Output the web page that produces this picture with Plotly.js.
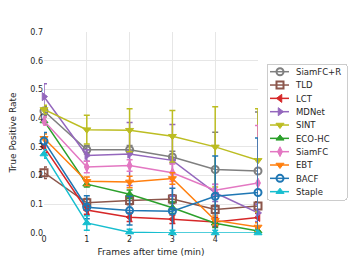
<!DOCTYPE html>
<html><head><meta charset="utf-8">
<script src="https://cdn.plot.ly/plotly-3.0.1.min.js"></script>
<style>html,body{margin:0;padding:0;background:#fff}#c{width:360px;height:262px}</style>
</head><body><div id="c"></div>
<script>
const frames = [0, 1, 2, 3, 4, 5];
const trackers = ["SiamFC+R","TLD","LCT","MDNet","SINT","ECO-HC","SiamFC","EBT","BACF","Staple"];
const siamfcR = [0.425, 0.290, 0.290, 0.265, 0.221, 0.216];
const tld     = [0.210, 0.105, 0.113, 0.118, 0.082, 0.094];
const lct     = [0.300, 0.080, 0.055, 0.048, 0.038, 0.054];
const mdnet   = [0.475, 0.270, 0.275, 0.253, 0.140, 0.070];
const sint    = [0.430, 0.360, 0.358, 0.337, 0.300, 0.253];
const ecohc   = [0.390, 0.170, 0.135, 0.088, 0.034, 0.007];
const siamfc  = [0.390, 0.230, 0.235, 0.210, 0.149, 0.174];
const ebt     = [0.330, 0.180, 0.178, 0.190, 0.044, 0.021];
const bacf    = [0.320, 0.090, 0.078, 0.076, 0.128, 0.141];
const staple  = [0.275, 0.035, 0.003, 0.000, 0.000, 0.000];
const errSiamfcR = [0.015, 0.015, 0.015, 0.02, 0.13, 0.205];
const errTld     = [0.020, 0.015, 0.015, 0.015, 0.015, 0.015];
const errLct     = [0.020, 0.015, 0.015, 0.015, 0.015, 0.015];
const errMdnet   = [0.045, 0.020, 0.110, 0.125, 0.030, 0.030];
const errSint    = [0.015, 0.050, 0.075, 0.090, 0.140, 0.180];
const errEcohc   = [0.015, 0.010, 0.015, 0.020, 0.015, 0.010];
const errSiamfc  = [0.015, 0.020, 0.020, 0.030, 0.020, 0.200];
const errEbt     = [0.015, 0.015, 0.020, 0.020, 0.015, 0.015];
const errBacf    = [0.030, 0.040, 0.050, 0.080, 0.140, 0.190];
const errStaple  = [0.015, 0.025, 0.010, 0.010, 0.010, 0.010];

const values = [siamfcR, tld, lct, mdnet, sint, ecohc, siamfc, ebt, bacf, staple];
const errs = [errSiamfcR, errTld, errLct, errMdnet, errSint, errEcohc, errSiamfc, errEbt, errBacf, errStaple];
const colors = ["#7f7f7f","#8c564b","#d62728","#9467bd","#bcbd22","#2ca02c","#e377c2","#ff7f0e","#1f77b4","#17becf"];
const symbols = ["circle-open","square-open","triangle-left","triangle-right","triangle-down","triangle-up","diamond-tall","triangle-down","circle-open","triangle-up"];

const data = trackers.map((name, i) => ({
  x: frames, y: values[i], name: name, type: "scatter", mode: "lines+markers", cliponaxis: false,
  line: {color: colors[i], width: 1.5},
  marker: {symbol: symbols[i], size: 7, color: colors[i], line: {color: colors[i], width: symbols[i].endsWith("open") ? 2 : 1}},
  error_y: {type: "data", array: errs[i], visible: true, color: colors[i], thickness: 1.5, width: 3}
}));

const layout = {
  width: 360, height: 262,
  margin: {l: 44, r: 102, t: 32, b: 29, autoexpand: false},
  paper_bgcolor: "#fff", plot_bgcolor: "#fff",
  font: {family: "DejaVu Sans", size: 8, color: "#262626"},
  showlegend: true,
  legend: {x: 1.0, y: 1.149, xanchor: "left", yanchor: "top", bordercolor: "#cccccc", borderwidth: 1,
           font: {family: "DejaVu Sans", size: 8.5, color: "#262626"}, tracegroupgap: 0, itemwidth: 30,
           maxheight: 260},
  xaxis: {range: [0, 5], tickvals: [0,1,2,3,4], ticktext: ["0","1","2","3","4"],
          showgrid: true, gridcolor: "#e6e6e6", gridwidth: 1, zeroline: false, showline: false, ticks: "",
          tickfont: {size: 8},
          title: {text: "Frames after time (min)", font: {size: 9}, standoff: 5}},
  yaxis: {range: [0, 0.7], dtick: 0.1, tickformat: ".1f",
          showgrid: true, gridcolor: "#e6e6e6", gridwidth: 1, zeroline: false, showline: false, ticks: "",
          tickfont: {size: 8},
          title: {text: "True Positive Rate", font: {size: 9}, standoff: 12}}
};
Plotly.newPlot("c", data, layout, {displayModeBar: false, staticPlot: true}).then(gd => {
  // compact the legend rows to match the reference spacing and place it
  const leg = gd.querySelector("g.legend");
  if (leg) leg.setAttribute("transform", "translate(267,64)");
  const sb = gd.querySelector(".legend .scrollbox");
  if (sb) { sb.removeAttribute("clip-path"); sb.setAttribute("transform", "translate(0,0)"); }
  gd.querySelectorAll(".legend .scrollbar").forEach(s => s.remove());
  const items = gd.querySelectorAll(".legend .traces");
  items.forEach((g, i) => {
    g.setAttribute("transform", "translate(0," + (7.7 + 13.33 * i) + ")");
    const ln = g.querySelector(".legendlines path");
    if (ln) ln.setAttribute("d", "M3,0h19");
    g.querySelectorAll(".legendpoints path").forEach(p => p.setAttribute("transform", "translate(13,0)"));
    const t = g.querySelector("text.legendtext");
    if (t) t.setAttribute("x", 29);
  });
  const bg = gd.querySelector(".legend rect.bg");
  if (bg) { bg.setAttribute("width", 80); bg.setAttribute("height", 136); bg.setAttribute("rx", 2); bg.setAttribute("ry", 2); bg.setAttribute("x", 0); bg.setAttribute("y", 0); }
});
</script></body></html>
